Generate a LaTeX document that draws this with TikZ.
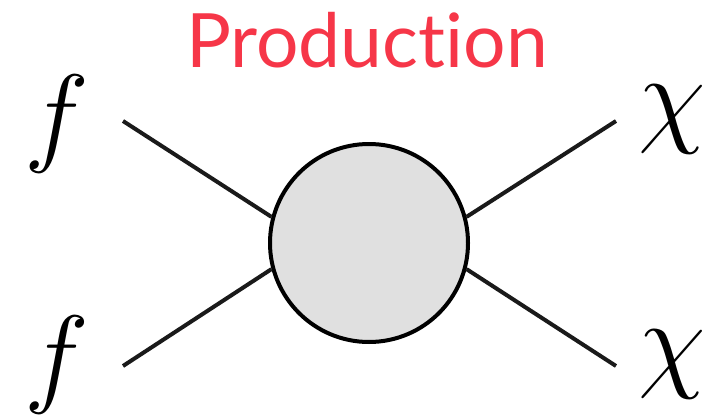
\RequirePackage{fix-cm}
\documentclass[tikz,border=0pt]{standalone}
\usepackage{fontspec}
\newfontfamily\titlefont[Ligatures=NoCommon]{Lato}
\definecolor{prodred}{RGB}{246,54,72}
\definecolor{blobgray}{RGB}{224,224,224}
\definecolor{linegray}{RGB}{26,26,26}

\begin{document}
\begin{tikzpicture}[x=1pt,y=-1pt,line width=4pt,
    blob/.style={circle,draw=black,fill=blobgray,minimum size=198pt,inner sep=0pt},
    ext label/.style={inner sep=0pt,font=\fontsize{110}{110}\selectfont},
    leg/.style={draw=linegray,line cap=butt}]

        \useasboundingbox (0,0) rectangle (725,415);

        \node[blob] (c) at (369,243) {};

        \node[anchor=base, inner sep=0pt, text=prodred, font=\titlefont\fontsize{75}{75}\selectfont] (title) at (367,67) {Production};

        \node[ext label] (f1) at (57,124) {$f$};
        \node[ext label] (f2) at (57,365) {$f$};
        \node[ext label] (x1) at (672,120) {$\chi$};
        \node[ext label] (x2) at (672,365) {$\chi$};

        \coordinate (a1) at (123,121);
        \coordinate (a2) at (123,366);
        \coordinate (b1) at (616,121);
        \coordinate (b2) at (616,366);

        \path[leg]
        (a1) edge (c.165)
        (a2) edge (c.195)
        (b1) edge (c.15)
        (b2) edge (c.-15)
        ;
    \end{tikzpicture}
\end{document}
